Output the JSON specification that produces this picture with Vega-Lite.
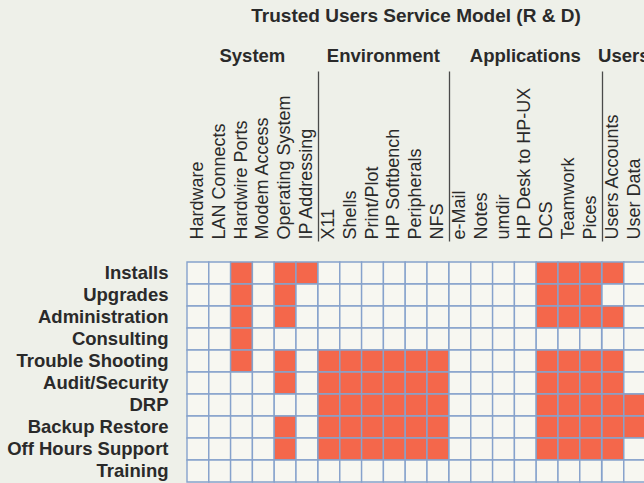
{
  "$schema": "https://vega.github.io/schema/vega-lite/v6.json",
  "background": "#eef0e9",
  "padding": {"left": 6, "top": 7, "right": 0, "bottom": 0},
  "data": {"values": [
    {"g":"System","c":"Hardware","t":"Installs","v":0},{"g":"System","c":"LAN Connects","t":"Installs","v":0},{"g":"System","c":"Hardwire Ports","t":"Installs","v":1},{"g":"System","c":"Modem Access","t":"Installs","v":0},{"g":"System","c":"Operating System","t":"Installs","v":1},{"g":"System","c":"IP Addressing","t":"Installs","v":1},
    {"g":"Environment","c":"X11","t":"Installs","v":0},{"g":"Environment","c":"Shells","t":"Installs","v":0},{"g":"Environment","c":"Print/Plot","t":"Installs","v":0},{"g":"Environment","c":"HP Softbench","t":"Installs","v":0},{"g":"Environment","c":"Peripherals","t":"Installs","v":0},{"g":"Environment","c":"NFS","t":"Installs","v":0},
    {"g":"Applications","c":"e-Mail","t":"Installs","v":0},{"g":"Applications","c":"Notes","t":"Installs","v":0},{"g":"Applications","c":"umdir","t":"Installs","v":0},{"g":"Applications","c":"HP Desk to HP-UX","t":"Installs","v":0},{"g":"Applications","c":"DCS","t":"Installs","v":1},{"g":"Applications","c":"Teamwork","t":"Installs","v":1},{"g":"Applications","c":"Pices","t":"Installs","v":1},
    {"g":"Users","c":"Users Accounts","t":"Installs","v":1},{"g":"Users","c":"User Data","t":"Installs","v":0},

    {"g":"System","c":"Hardware","t":"Upgrades","v":0},{"g":"System","c":"LAN Connects","t":"Upgrades","v":0},{"g":"System","c":"Hardwire Ports","t":"Upgrades","v":1},{"g":"System","c":"Modem Access","t":"Upgrades","v":0},{"g":"System","c":"Operating System","t":"Upgrades","v":1},{"g":"System","c":"IP Addressing","t":"Upgrades","v":0},
    {"g":"Environment","c":"X11","t":"Upgrades","v":0},{"g":"Environment","c":"Shells","t":"Upgrades","v":0},{"g":"Environment","c":"Print/Plot","t":"Upgrades","v":0},{"g":"Environment","c":"HP Softbench","t":"Upgrades","v":0},{"g":"Environment","c":"Peripherals","t":"Upgrades","v":0},{"g":"Environment","c":"NFS","t":"Upgrades","v":0},
    {"g":"Applications","c":"e-Mail","t":"Upgrades","v":0},{"g":"Applications","c":"Notes","t":"Upgrades","v":0},{"g":"Applications","c":"umdir","t":"Upgrades","v":0},{"g":"Applications","c":"HP Desk to HP-UX","t":"Upgrades","v":0},{"g":"Applications","c":"DCS","t":"Upgrades","v":1},{"g":"Applications","c":"Teamwork","t":"Upgrades","v":1},{"g":"Applications","c":"Pices","t":"Upgrades","v":1},
    {"g":"Users","c":"Users Accounts","t":"Upgrades","v":0},{"g":"Users","c":"User Data","t":"Upgrades","v":0},

    {"g":"System","c":"Hardware","t":"Administration","v":0},{"g":"System","c":"LAN Connects","t":"Administration","v":0},{"g":"System","c":"Hardwire Ports","t":"Administration","v":1},{"g":"System","c":"Modem Access","t":"Administration","v":0},{"g":"System","c":"Operating System","t":"Administration","v":1},{"g":"System","c":"IP Addressing","t":"Administration","v":0},
    {"g":"Environment","c":"X11","t":"Administration","v":0},{"g":"Environment","c":"Shells","t":"Administration","v":0},{"g":"Environment","c":"Print/Plot","t":"Administration","v":0},{"g":"Environment","c":"HP Softbench","t":"Administration","v":0},{"g":"Environment","c":"Peripherals","t":"Administration","v":0},{"g":"Environment","c":"NFS","t":"Administration","v":0},
    {"g":"Applications","c":"e-Mail","t":"Administration","v":0},{"g":"Applications","c":"Notes","t":"Administration","v":0},{"g":"Applications","c":"umdir","t":"Administration","v":0},{"g":"Applications","c":"HP Desk to HP-UX","t":"Administration","v":0},{"g":"Applications","c":"DCS","t":"Administration","v":1},{"g":"Applications","c":"Teamwork","t":"Administration","v":1},{"g":"Applications","c":"Pices","t":"Administration","v":1},
    {"g":"Users","c":"Users Accounts","t":"Administration","v":1},{"g":"Users","c":"User Data","t":"Administration","v":0},

    {"g":"System","c":"Hardware","t":"Consulting","v":0},{"g":"System","c":"LAN Connects","t":"Consulting","v":0},{"g":"System","c":"Hardwire Ports","t":"Consulting","v":1},{"g":"System","c":"Modem Access","t":"Consulting","v":0},{"g":"System","c":"Operating System","t":"Consulting","v":0},{"g":"System","c":"IP Addressing","t":"Consulting","v":0},
    {"g":"Environment","c":"X11","t":"Consulting","v":0},{"g":"Environment","c":"Shells","t":"Consulting","v":0},{"g":"Environment","c":"Print/Plot","t":"Consulting","v":0},{"g":"Environment","c":"HP Softbench","t":"Consulting","v":0},{"g":"Environment","c":"Peripherals","t":"Consulting","v":0},{"g":"Environment","c":"NFS","t":"Consulting","v":0},
    {"g":"Applications","c":"e-Mail","t":"Consulting","v":0},{"g":"Applications","c":"Notes","t":"Consulting","v":0},{"g":"Applications","c":"umdir","t":"Consulting","v":0},{"g":"Applications","c":"HP Desk to HP-UX","t":"Consulting","v":0},{"g":"Applications","c":"DCS","t":"Consulting","v":0},{"g":"Applications","c":"Teamwork","t":"Consulting","v":0},{"g":"Applications","c":"Pices","t":"Consulting","v":0},
    {"g":"Users","c":"Users Accounts","t":"Consulting","v":0},{"g":"Users","c":"User Data","t":"Consulting","v":0},

    {"g":"System","c":"Hardware","t":"Trouble Shooting","v":0},{"g":"System","c":"LAN Connects","t":"Trouble Shooting","v":0},{"g":"System","c":"Hardwire Ports","t":"Trouble Shooting","v":1},{"g":"System","c":"Modem Access","t":"Trouble Shooting","v":0},{"g":"System","c":"Operating System","t":"Trouble Shooting","v":1},{"g":"System","c":"IP Addressing","t":"Trouble Shooting","v":0},
    {"g":"Environment","c":"X11","t":"Trouble Shooting","v":1},{"g":"Environment","c":"Shells","t":"Trouble Shooting","v":1},{"g":"Environment","c":"Print/Plot","t":"Trouble Shooting","v":1},{"g":"Environment","c":"HP Softbench","t":"Trouble Shooting","v":1},{"g":"Environment","c":"Peripherals","t":"Trouble Shooting","v":1},{"g":"Environment","c":"NFS","t":"Trouble Shooting","v":1},
    {"g":"Applications","c":"e-Mail","t":"Trouble Shooting","v":0},{"g":"Applications","c":"Notes","t":"Trouble Shooting","v":0},{"g":"Applications","c":"umdir","t":"Trouble Shooting","v":0},{"g":"Applications","c":"HP Desk to HP-UX","t":"Trouble Shooting","v":0},{"g":"Applications","c":"DCS","t":"Trouble Shooting","v":1},{"g":"Applications","c":"Teamwork","t":"Trouble Shooting","v":1},{"g":"Applications","c":"Pices","t":"Trouble Shooting","v":1},
    {"g":"Users","c":"Users Accounts","t":"Trouble Shooting","v":1},{"g":"Users","c":"User Data","t":"Trouble Shooting","v":0},

    {"g":"System","c":"Hardware","t":"Audit/Security","v":0},{"g":"System","c":"LAN Connects","t":"Audit/Security","v":0},{"g":"System","c":"Hardwire Ports","t":"Audit/Security","v":0},{"g":"System","c":"Modem Access","t":"Audit/Security","v":0},{"g":"System","c":"Operating System","t":"Audit/Security","v":1},{"g":"System","c":"IP Addressing","t":"Audit/Security","v":0},
    {"g":"Environment","c":"X11","t":"Audit/Security","v":1},{"g":"Environment","c":"Shells","t":"Audit/Security","v":1},{"g":"Environment","c":"Print/Plot","t":"Audit/Security","v":1},{"g":"Environment","c":"HP Softbench","t":"Audit/Security","v":1},{"g":"Environment","c":"Peripherals","t":"Audit/Security","v":1},{"g":"Environment","c":"NFS","t":"Audit/Security","v":1},
    {"g":"Applications","c":"e-Mail","t":"Audit/Security","v":0},{"g":"Applications","c":"Notes","t":"Audit/Security","v":0},{"g":"Applications","c":"umdir","t":"Audit/Security","v":0},{"g":"Applications","c":"HP Desk to HP-UX","t":"Audit/Security","v":0},{"g":"Applications","c":"DCS","t":"Audit/Security","v":1},{"g":"Applications","c":"Teamwork","t":"Audit/Security","v":1},{"g":"Applications","c":"Pices","t":"Audit/Security","v":1},
    {"g":"Users","c":"Users Accounts","t":"Audit/Security","v":1},{"g":"Users","c":"User Data","t":"Audit/Security","v":0},

    {"g":"System","c":"Hardware","t":"DRP","v":0},{"g":"System","c":"LAN Connects","t":"DRP","v":0},{"g":"System","c":"Hardwire Ports","t":"DRP","v":0},{"g":"System","c":"Modem Access","t":"DRP","v":0},{"g":"System","c":"Operating System","t":"DRP","v":0},{"g":"System","c":"IP Addressing","t":"DRP","v":0},
    {"g":"Environment","c":"X11","t":"DRP","v":1},{"g":"Environment","c":"Shells","t":"DRP","v":1},{"g":"Environment","c":"Print/Plot","t":"DRP","v":1},{"g":"Environment","c":"HP Softbench","t":"DRP","v":1},{"g":"Environment","c":"Peripherals","t":"DRP","v":1},{"g":"Environment","c":"NFS","t":"DRP","v":1},
    {"g":"Applications","c":"e-Mail","t":"DRP","v":0},{"g":"Applications","c":"Notes","t":"DRP","v":0},{"g":"Applications","c":"umdir","t":"DRP","v":0},{"g":"Applications","c":"HP Desk to HP-UX","t":"DRP","v":0},{"g":"Applications","c":"DCS","t":"DRP","v":1},{"g":"Applications","c":"Teamwork","t":"DRP","v":1},{"g":"Applications","c":"Pices","t":"DRP","v":1},
    {"g":"Users","c":"Users Accounts","t":"DRP","v":1},{"g":"Users","c":"User Data","t":"DRP","v":1},

    {"g":"System","c":"Hardware","t":"Backup Restore","v":0},{"g":"System","c":"LAN Connects","t":"Backup Restore","v":0},{"g":"System","c":"Hardwire Ports","t":"Backup Restore","v":0},{"g":"System","c":"Modem Access","t":"Backup Restore","v":0},{"g":"System","c":"Operating System","t":"Backup Restore","v":1},{"g":"System","c":"IP Addressing","t":"Backup Restore","v":0},
    {"g":"Environment","c":"X11","t":"Backup Restore","v":1},{"g":"Environment","c":"Shells","t":"Backup Restore","v":1},{"g":"Environment","c":"Print/Plot","t":"Backup Restore","v":1},{"g":"Environment","c":"HP Softbench","t":"Backup Restore","v":1},{"g":"Environment","c":"Peripherals","t":"Backup Restore","v":1},{"g":"Environment","c":"NFS","t":"Backup Restore","v":1},
    {"g":"Applications","c":"e-Mail","t":"Backup Restore","v":0},{"g":"Applications","c":"Notes","t":"Backup Restore","v":0},{"g":"Applications","c":"umdir","t":"Backup Restore","v":0},{"g":"Applications","c":"HP Desk to HP-UX","t":"Backup Restore","v":0},{"g":"Applications","c":"DCS","t":"Backup Restore","v":1},{"g":"Applications","c":"Teamwork","t":"Backup Restore","v":1},{"g":"Applications","c":"Pices","t":"Backup Restore","v":1},
    {"g":"Users","c":"Users Accounts","t":"Backup Restore","v":1},{"g":"Users","c":"User Data","t":"Backup Restore","v":1},

    {"g":"System","c":"Hardware","t":"Off Hours Support","v":0},{"g":"System","c":"LAN Connects","t":"Off Hours Support","v":0},{"g":"System","c":"Hardwire Ports","t":"Off Hours Support","v":0},{"g":"System","c":"Modem Access","t":"Off Hours Support","v":0},{"g":"System","c":"Operating System","t":"Off Hours Support","v":1},{"g":"System","c":"IP Addressing","t":"Off Hours Support","v":0},
    {"g":"Environment","c":"X11","t":"Off Hours Support","v":1},{"g":"Environment","c":"Shells","t":"Off Hours Support","v":1},{"g":"Environment","c":"Print/Plot","t":"Off Hours Support","v":1},{"g":"Environment","c":"HP Softbench","t":"Off Hours Support","v":1},{"g":"Environment","c":"Peripherals","t":"Off Hours Support","v":1},{"g":"Environment","c":"NFS","t":"Off Hours Support","v":1},
    {"g":"Applications","c":"e-Mail","t":"Off Hours Support","v":0},{"g":"Applications","c":"Notes","t":"Off Hours Support","v":0},{"g":"Applications","c":"umdir","t":"Off Hours Support","v":0},{"g":"Applications","c":"HP Desk to HP-UX","t":"Off Hours Support","v":0},{"g":"Applications","c":"DCS","t":"Off Hours Support","v":1},{"g":"Applications","c":"Teamwork","t":"Off Hours Support","v":1},{"g":"Applications","c":"Pices","t":"Off Hours Support","v":1},
    {"g":"Users","c":"Users Accounts","t":"Off Hours Support","v":1},{"g":"Users","c":"User Data","t":"Off Hours Support","v":0},

    {"g":"System","c":"Hardware","t":"Training","v":0},{"g":"System","c":"LAN Connects","t":"Training","v":0},{"g":"System","c":"Hardwire Ports","t":"Training","v":0},{"g":"System","c":"Modem Access","t":"Training","v":0},{"g":"System","c":"Operating System","t":"Training","v":0},{"g":"System","c":"IP Addressing","t":"Training","v":0},
    {"g":"Environment","c":"X11","t":"Training","v":0},{"g":"Environment","c":"Shells","t":"Training","v":0},{"g":"Environment","c":"Print/Plot","t":"Training","v":0},{"g":"Environment","c":"HP Softbench","t":"Training","v":0},{"g":"Environment","c":"Peripherals","t":"Training","v":0},{"g":"Environment","c":"NFS","t":"Training","v":0},
    {"g":"Applications","c":"e-Mail","t":"Training","v":0},{"g":"Applications","c":"Notes","t":"Training","v":0},{"g":"Applications","c":"umdir","t":"Training","v":0},{"g":"Applications","c":"HP Desk to HP-UX","t":"Training","v":0},{"g":"Applications","c":"DCS","t":"Training","v":0},{"g":"Applications","c":"Teamwork","t":"Training","v":0},{"g":"Applications","c":"Pices","t":"Training","v":0},
    {"g":"Users","c":"Users Accounts","t":"Training","v":0},{"g":"Users","c":"User Data","t":"Training","v":0}
  ]},
  "facet": {
    "column": {
      "field": "g", "type": "nominal",
      "title": "Trusted Users Service Model (R & D)",
      "sort": ["System", "Environment", "Applications", "Users"],
      "header": {
        "titleFontSize": 19, "titleFontWeight": "bold", "titleColor": "#2a2a2a", "titleFont": "Liberation Sans", "titlePadding": 10,
        "labelFontSize": 18.5, "labelFontWeight": "bold", "labelColor": "#2a2a2a", "labelFont": "Liberation Sans", "labelPadding": 197
      }
    }
  },
  "spacing": 0,
  "align": "none",
  "bounds": "flush",
  "spec": {
    "width": {"step": 21.8},
    "height": {"step": 22},
    "mark": {"type": "rect", "stroke": "#86a2cc", "strokeWidth": 1.4},
    "encoding": {
      "x": {
        "field": "c", "type": "nominal", "sort": null,
        "scale": {"paddingInner": 0, "paddingOuter": 0},
        "axis": {
          "orient": "top", "title": null, "labelAngle": -90, "labelAlign": "left", "labelBaseline": "middle",
          "labelFontSize": 18, "labelFont": "Liberation Sans", "labelColor": "#2a2a2a",
          "domain": false, "ticks": true, "bandPosition": 0, "tickSize": 170, "tickColor": "#4a4a4a", "tickWidth": 1.3,
          "tickOpacity": {"condition": {"test": "datum.index === 0 && datum.value !== 'Hardware'", "value": 1}, "value": 0},
          "labelPadding": -168, "offset": 21, "labelOverlap": false, "labelBound": false, "labelLimit": 0
        }
      },
      "y": {
        "field": "t", "type": "nominal", "sort": null,
        "scale": {"paddingInner": 0, "paddingOuter": 0},
        "axis": {"title": null, "domain": false, "ticks": false, "labelFontSize": 18.5, "labelFontWeight": "bold", "labelFont": "Liberation Sans", "labelColor": "#2a2a2a", "labelPadding": 19, "labelLimit": 0}
      },
      "fill": {"field": "v", "type": "nominal", "scale": {"domain": [0, 1], "range": ["#f7f7f1", "#f4674b"]}, "legend": null}
    }
  },
  "resolve": {"scale": {"x": "independent"}, "axis": {"x": "independent"}},
  "config": {"view": {"stroke": null}}
}
